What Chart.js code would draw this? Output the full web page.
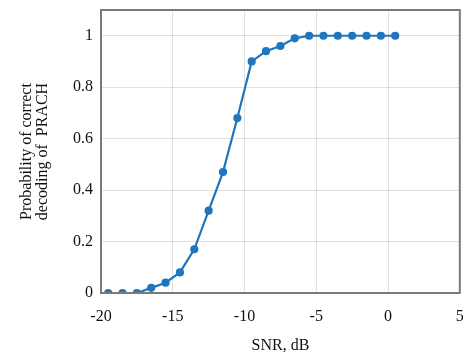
<!DOCTYPE html>
<html>
<head>
<meta charset="utf-8">
<script src="https://cdn.jsdelivr.net/npm/chart.js@4.4.1/dist/chart.umd.min.js"></script>
<style>
  html, body { margin: 0; padding: 0; background: #fff; }
  #wrap { width: 465px; height: 355px; }
</style>
</head>
<body>
<div id="wrap"><canvas id="chart" width="465" height="355"></canvas></div>
<script>
// SNR, dB
const snr = [-19.5, -18.5, -17.5, -16.5, -15.5, -14.5, -13.5, -12.5, -11.5, -10.5,
  -9.5, -8.5, -7.5, -6.5, -5.5, -4.5, -3.5, -2.5, -1.5, -0.5, 0.5];
// probability of correct decoding
const prob = [0, 0, 0, 0.02, 0.04, 0.08, 0.17, 0.32, 0.47, 0.68,
  0.9, 0.94, 0.96, 0.99, 1, 1, 1, 1, 1, 1, 1];

const xTicks = [-20, -15, -10, -5, 0, 5];
const yTicks = [0, 0.2, 0.4, 0.6, 0.8, 1];

const points = snr.map((x, i) => ({ x: x, y: prob[i] }));

const serif = "'Liberation Serif', 'Times New Roman', serif";
const blue = "rgb(31, 118, 190)";

// 테두리 (box)
const frame = {
  id: "frame",
  afterDraw(chart) {
    const { ctx, chartArea: a } = chart;
    ctx.save();
    ctx.strokeStyle = "#7a7a7a";
    ctx.lineWidth = 2;
    ctx.strokeRect(a.left, a.top, a.right - a.left, a.bottom - a.top);
    ctx.restore();
  },
};

const chart = document.getElementById("chart").getContext("2d");
new Chart(chart, {
  type: "scatter",
  data: {
    datasets: [
      {
        data: points,
        showLine: true,
        borderColor: blue,
        backgroundColor: blue,
        borderWidth: 2.2,
        pointRadius: 3,
        pointHoverRadius: 3,
        tension: 0,
      },
    ],
  },
  options: {
    responsive: false,
    animation: false,
    layout: { padding: { top: 10, right: 4, left: 0, bottom: 0 } },
    plugins: { legend: { display: false }, tooltip: { enabled: false } },
    scales: {
      x: {
        type: "linear",
        min: -20,
        max: 5,
        afterBuildTicks: (s) => { s.ticks = xTicks.map((v) => ({ value: v })); },
        afterFit: (s) => { s.height = 62; s.paddingLeft = 0; s.paddingRight = 0; },
        grid: { color: "rgba(0,0,0,0.12)", drawTicks: false },
        border: { display: false },
        ticks: {
          color: "#111",
          font: { family: serif, size: 16 },
          padding: 14,
          callback: (v) => String(v),
        },
        title: {
          display: true,
          text: "SNR, dB",
          color: "#111",
          font: { family: serif, size: 16 },
          padding: { top: 4, bottom: 0 },
        },
      },
      y: {
        type: "linear",
        min: 0,
        max: 1.1,
        afterBuildTicks: (s) => { s.ticks = yTicks.map((v) => ({ value: v })); },
        afterFit: (s) => { s.width = 101; s.paddingTop = 0; s.paddingBottom = 0; },
        grid: { color: "rgba(0,0,0,0.12)", drawTicks: false },
        border: { display: false },
        ticks: {
          color: "#111",
          font: { family: serif, size: 16 },
          padding: 8,
          callback: (v) => String(v),
        },
        title: {
          display: true,
          text: ["Probability of correct", "decoding of  PRACH"],
          color: "#111",
          font: { family: serif, size: 16, lineHeight: 1.0 },
          padding: { top: 19, bottom: 0 },
        },
      },
    },
  },
  plugins: [frame],
});
</script>
</body>
</html>
